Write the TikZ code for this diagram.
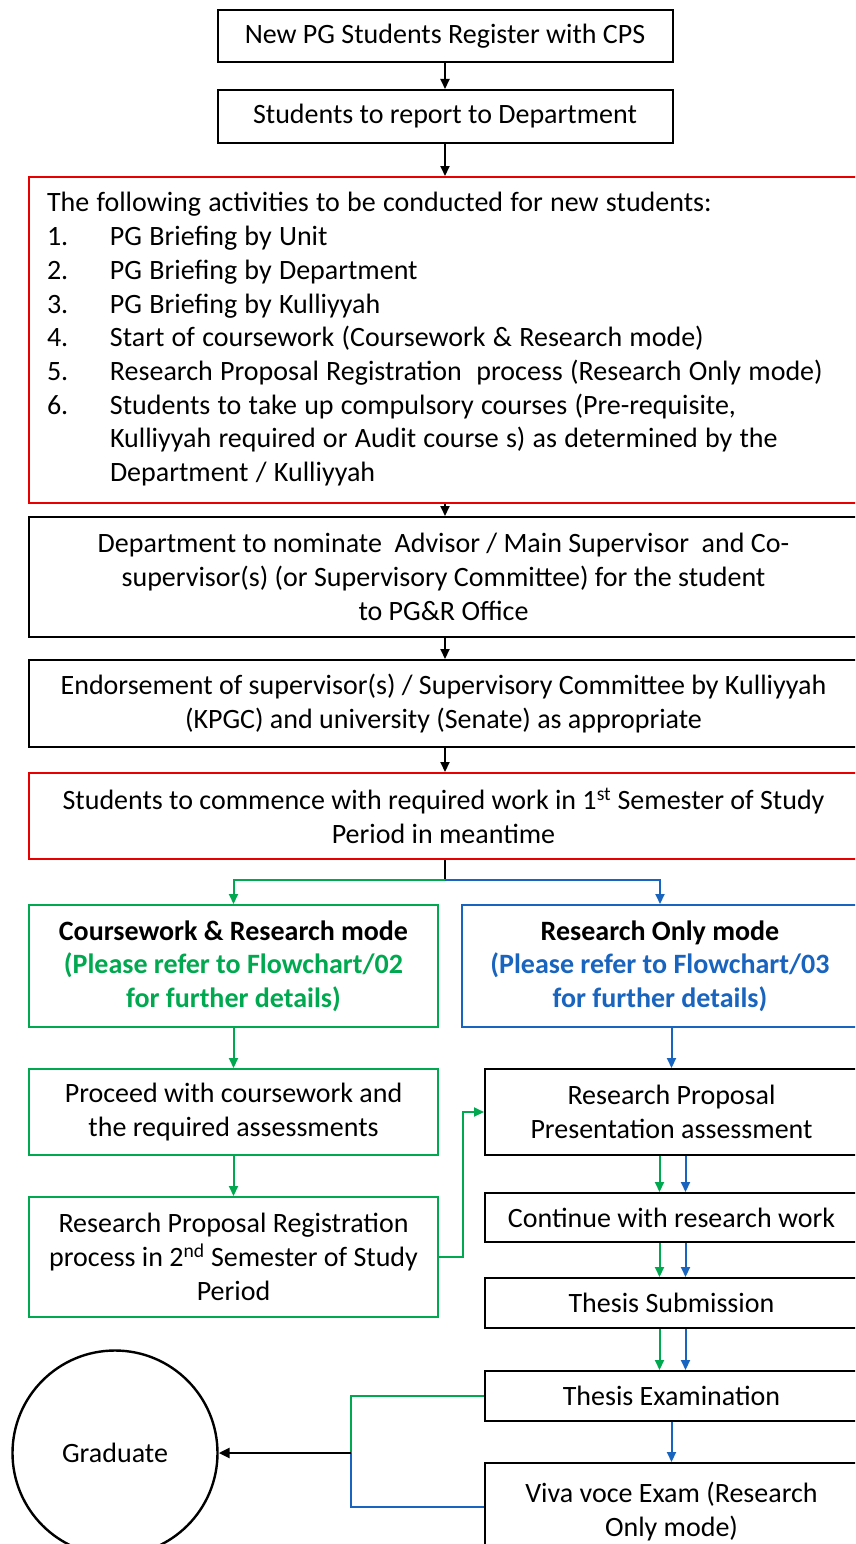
\documentclass[tikz,border=0pt]{standalone}
\usepackage{fontspec}
\setmainfont{Carlito}
\usetikzlibrary{arrows.meta}
\definecolor{gr}{RGB}{0,168,80}
\definecolor{bl}{RGB}{25,100,190}
\definecolor{rd}{RGB}{232,0,0}
\begin{document}
\begin{tikzpicture}[x=1pt,y=-1pt,
  font=\fontsize{28}{33.7}\selectfont,
  box/.style={draw, line width=2pt, align=center, inner sep=0pt},
  arr/.style={-{Triangle[length=10pt,width=9pt]}, line width=2pt}]
\useasboundingbox (0,0) rectangle (855,1544);
\clip (0,0) rectangle (855,1544);
\fill[white] (0,0) rectangle (855,1544);

\node[box, minimum width=455pt, minimum height=52pt] (b1) at (445,36) {New PG Students Register with CPS};
\node[box, minimum width=455pt, minimum height=53pt] (b2) at (445,116.5) {Students to report to Department};
\node[box, draw=rd, text width=793pt, inner xsep=18pt, minimum height=326pt, align=left] (b3) at (443.5,340) {%
\spaceskip=0.26em plus 0.05em minus 0.02em
\begin{tabular}{@{}p{63pt}@{}l@{}}
\multicolumn{2}{@{}l}{The following activities to be conducted for new students:}\\
1. & PG Briefing by Unit\\
2. & PG Briefing by Department\\
3. & PG Briefing by Kulliyyah\\
4. & Start of coursework (Coursework \& Research mode)\\
5. & Research Proposal Registration\ \ process (Research Only mode)\\
6. & Students to take up compulsory courses (Pre-requisite,\\
   & Kulliyyah required or Audit course s) as determined by the\\
   & Department / Kulliyyah
\end{tabular}};
\node[box, minimum width=829pt, minimum height=120pt] (b4) at (443.5,577) {Department to nominate\ \ Advisor / Main Supervisor\ \ and Co-\\supervisor(s) (or Supervisory Committee) for the student\\to PG\&R Office};
\node[box, minimum width=829pt, minimum height=87pt] (b5) at (443.5,703.5) {Endorsement of supervisor(s) / Supervisory Committee by Kulliyyah\\(KPGC) and university (Senate) as appropriate};
\node[box, draw=rd, minimum width=829pt, minimum height=86pt] (b6) at (443.5,816) {Students to commence with required work in 1\textsuperscript{st} Semester of Study\\Period in meantime};

\node[box, draw=gr, minimum width=409pt, minimum height=122pt] (A) at (233.5,966) {\textbf{Coursework \& Research mode}\\\textcolor{gr}{\textbf{(Please refer to Flowchart/02}}\\\textcolor{gr}{\textbf{for further details)}}};
\node[box, draw=bl, minimum width=396pt, minimum height=122pt] (B) at (660,966) {\textbf{Research Only mode}\\\textcolor{bl}{\textbf{(Please refer to Flowchart/03}}\\\textcolor{bl}{\textbf{for further details)}}};
\node[box, draw=gr, minimum width=409pt, minimum height=86pt] (C) at (233.5,1112) {Proceed with coursework and\\the required assessments};
\node[box, draw=gr, minimum width=409pt, minimum height=120pt] (D) at (233.5,1257) {Research Proposal Registration\\process in 2\textsuperscript{nd} Semester of Study\\Period};

\node[box, minimum width=373pt, minimum height=86pt] (E) at (671.5,1112) {Research Proposal\\Presentation assessment};
\node[box, minimum width=373pt, minimum height=49pt] (F) at (671.5,1217.5) {Continue with research work};
\node[box, minimum width=373pt, minimum height=50pt] (G) at (671.5,1303) {Thesis Submission};
\node[box, minimum width=373pt, minimum height=50pt] (H) at (671.5,1396) {Thesis Examination};
\node[box, minimum width=373pt, minimum height=97pt] (I) at (671.5,1511.5) {Viva voce Exam (Research\\Only mode)};
\node[draw, circle, line width=2.4pt, minimum size=205pt, inner sep=0pt] (grad) at (115,1453) {Graduate};

\draw[arr] (b1.south) -- (b2.north);
\draw[arr] (b2.south) -- (b2.south |- b3.north);
\draw[arr] (b2.south |- b3.south) -- (b2.south |- b4.north);
\draw[arr] (b2.south |- b4.south) -- (b2.south |- b5.north);
\draw[arr] (b2.south |- b5.south) -- (b2.south |- b6.north);
\coordinate (split) at (445,880);
\draw[line width=2pt] (b2.south |- b6.south) -- (split);
\draw[arr, gr] (split) -| (A.north);
\draw[arr, bl] (split) -| (B.north);
\draw[arr, gr] (A.south) -- (C.north);
\draw[arr, gr] (C.south) -- (D.north);
\draw[arr, bl] (E.north |- B.south) -- (E.north);
\draw[arr, gr] (D.east) -- ++(24,0) |- (E.west);

\draw[arr, gr] ([xshift=-12pt]E.south) -- ([xshift=-12pt]F.north);
\draw[arr, bl] ([xshift=14pt]E.south) -- ([xshift=14pt]F.north);
\draw[arr, gr] ([xshift=-12pt]F.south) -- ([xshift=-12pt]G.north);
\draw[arr, bl] ([xshift=14pt]F.south) -- ([xshift=14pt]G.north);
\draw[arr, gr] ([xshift=-12pt]G.south) -- ([xshift=-12pt]H.north);
\draw[arr, bl] ([xshift=14pt]G.south) -- ([xshift=14pt]H.north);
\draw[arr, bl] (H.south) -- (I.north);

\coordinate (j) at (351,1453);
\draw[gr, line width=2pt] (H.west) -| (j);
\draw[bl, line width=2pt] ([yshift=5pt]I.west) -| (j);
\draw[-{Triangle[length=11pt,width=10pt]}, line width=2.8pt] (j) -- (grad.east);
\end{tikzpicture}
\end{document}
